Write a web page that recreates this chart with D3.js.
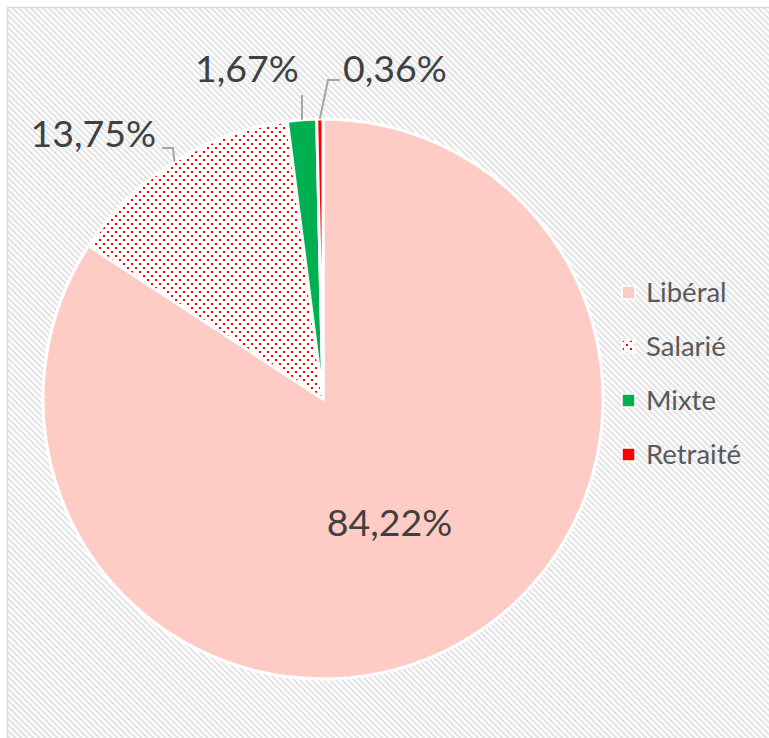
<!DOCTYPE html>
<html>
<head>
<meta charset="utf-8">
<script src="https://cdn.jsdelivr.net/npm/d3@7"></script>
<style>
  body { margin: 0; background: #fff; }
  svg { display: block; font-family: Lato, "Open Sans", sans-serif; }
</style>
</head>
<body>
<div id="chart"></div>
<script>
const categories = ['Libéral', 'Salarié', 'Mixte', 'Retraité'];
const values = [84.22, 13.75, 1.67, 0.36];
const labels = ['84,22%', '13,75%', '1,67%', '0,36%'];
const colors = ['#ffccc5', 'url(#dots)', '#00b050', '#ff0000'];

const width = 769;
const height = 738;
const cx = 323, cy = 399, radius = 280;

// label placement for the small slices (leader line elbow + text anchor)
const labelLayout = [
  null,
  { elbow: [173, 148], end: [162, 148], tx: 156, ty: 147, anchor: 'end' },
  { elbow: [302, 95], end: [302, 95], tx: 247, ty: 82, anchor: 'middle' },
  { elbow: [328, 80], end: [340, 80], tx: 343, ty: 82, anchor: 'start' }
];

const data = categories.map((c, i) => ({ name: c, value: values[i], label: labels[i], color: colors[i] }));

const svg = d3.select('#chart').append('svg')
  .attr('width', width)
  .attr('height', height);

const defs = svg.append('defs');

const stripes = defs.append('pattern')
  .attr('id', 'stripes')
  .attr('patternUnits', 'userSpaceOnUse')
  .attr('width', 8).attr('height', 4.25)
  .attr('patternTransform', 'rotate(45)');
stripes.append('rect').attr('width', 8).attr('height', 4.25).attr('fill', '#fff');
stripes.append('rect').attr('width', 8).attr('height', 2).attr('fill', '#e2e2e2');

const dots = defs.append('pattern')
  .attr('id', 'dots')
  .attr('patternUnits', 'userSpaceOnUse')
  .attr('width', 8).attr('height', 8);
dots.append('rect').attr('width', 8).attr('height', 8).attr('fill', '#fff');
dots.append('rect').attr('x', 0).attr('y', 0).attr('width', 2).attr('height', 2).attr('fill', '#ff0000');
dots.append('rect').attr('x', 4).attr('y', 4).attr('width', 2).attr('height', 2).attr('fill', '#ff0000');

// chart area
svg.append('rect')
  .attr('x', 7.5).attr('y', 7.5)
  .attr('width', width + 10).attr('height', height + 10)
  .attr('fill', 'url(#stripes)')
  .attr('stroke', '#d9d9d9')
  .attr('stroke-width', 1.5);

const pie = d3.pie().sort(null).value(d => d.value);
const arc = d3.arc().innerRadius(0).outerRadius(radius);
const arcs = pie(data);

const g = svg.append('g').attr('transform', `translate(${cx},${cy})`);

g.selectAll('path')
  .data(arcs)
  .join('path')
  .attr('d', arc)
  .attr('fill', d => d.data.color)
  .attr('stroke', '#fff')
  .attr('stroke-width', 3)
  .attr('stroke-linejoin', 'round');

// big slice label inside
const inner = d3.arc().innerRadius(radius * 0.5).outerRadius(radius * 0.5);
g.append('text')
  .attr('x', inner.centroid(arcs[0])[0])
  .attr('y', inner.centroid(arcs[0])[1] + 14)
  .attr('text-anchor', 'middle')
  .attr('font-size', 37.5)
  .attr('fill', '#404040')
  .text(arcs[0].data.label);

// leader lines and outside labels
arcs.forEach((a, i) => {
  const lay = labelLayout[i];
  if (!lay) return;
  const mid = (a.startAngle + a.endAngle) / 2;
  const px = cx + radius * Math.sin(mid);
  const py = cy - radius * Math.cos(mid);
  svg.append('path')
    .attr('d', d3.line()([[px, py], lay.elbow, lay.end]))
    .attr('fill', 'none')
    .attr('stroke', '#a6a6a6')
    .attr('stroke-width', 2);
  svg.append('text')
    .attr('x', lay.tx)
    .attr('y', lay.ty)
    .attr('text-anchor', lay.anchor)
    .attr('font-size', 37.5)
    .attr('fill', '#404040')
    .text(a.data.label);
});

// legend
const legend = svg.append('g').attr('transform', 'translate(622,286)');
const item = legend.selectAll('g')
  .data(data)
  .join('g')
  .attr('transform', (d, i) => `translate(0,${i * 54})`);
item.append('rect')
  .attr('width', 13).attr('height', 13)
  .attr('fill', d => d.color)
  .attr('stroke', '#fff')
  .attr('stroke-width', 1.5);
item.append('text')
  .attr('x', 24)
  .attr('y', 16)
  .attr('font-size', 27.5)
  .attr('fill', '#595959')
  .text(d => d.name);
</script>
</body>
</html>
